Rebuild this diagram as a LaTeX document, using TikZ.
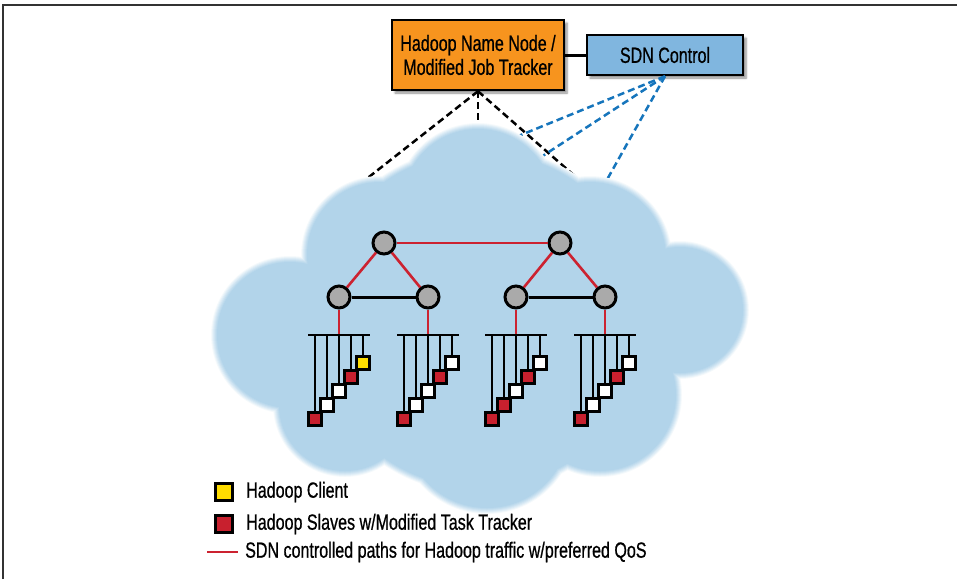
\documentclass[tikz,border=0pt]{standalone}
\usepackage{fontspec}
\setmainfont{Liberation Sans}[FakeStretch=0.73, FakeBold=0.7]
\usepackage{tikz}
\usetikzlibrary{positioning,shadows.blur}
\definecolor{cloudblue}{RGB}{178,212,234}
\definecolor{nameorange}{RGB}{247,148,30}
\definecolor{sdnblue}{RGB}{128,182,223}
\definecolor{pathred}{RGB}{204,34,48}
\definecolor{ctrlblue}{RGB}{22,117,188}
\definecolor{slavered}{RGB}{200,32,46}
\definecolor{clientyellow}{RGB}{255,221,0}
\definecolor{swgray}{RGB}{170,170,170}
\tikzset{
  box/.style={draw, line width=2.5pt, align=center, inner sep=0pt,
    blur shadow={shadow xshift=3pt, shadow yshift=-3pt, shadow blur steps=6, shadow opacity=45}},
  namebox/.style={box, fill=nameorange, minimum width=172pt, minimum height=70pt},
  sdnbox/.style={box, fill=sdnblue, minimum width=156pt, minimum height=40pt},
  sw/.style={circle, draw, line width=3pt, fill=swgray, minimum size=22pt, inner sep=0pt},
  srv/.style={draw, line width=2.5pt, minimum size=13pt, inner sep=0pt},
  legsq/.style={draw, line width=3pt, minimum size=17pt, inner sep=0pt},
  legtext/.style={inner sep=0pt, anchor=west},
  link/.style={line width=3pt},
  qos/.style={line width=2.6pt, pathred},
  rack/.style={line width=2.6pt},
  ctl/.style={line width=2.5pt, dash pattern=on 7pt off 4pt},
  sdnctl/.style={ctl, ctrlblue},
  frameline/.style={line width=1.5pt, black!80}}
\begin{document}
\begin{tikzpicture}[x=1pt, y=-1pt, font=\fontsize{22}{24}\selectfont]
  \useasboundingbox (0,0) rectangle (957,579);
  \draw[frameline] (3,579) -- (3,5) -- (957,5);
  % controllers
  \node[namebox] (nn) at (478,55) {Hadoop Name Node /\\Modified Job Tracker};
  \node[sdnbox] (sdn) at (665,55) {SDN Control};
  \draw[link] (nn) -- (sdn);
  % dashed control lines (cloud covers their ends)
  \coordinate (d1) at (360,184); \coordinate (d2) at (478,130); \coordinate (d3) at (585,185);
  \coordinate (b1) at (511,139); \coordinate (b2) at (538,159); \coordinate (b3) at (604,185);
  \draw[ctl] (nn.south) -- (d1); \draw[ctl] (nn.south) -- (d2); \draw[ctl] (nn.south) -- (d3);
  \draw[sdnctl] (sdn.south) -- (b1); \draw[sdnctl] (sdn.south) -- (b2); \draw[sdnctl] (sdn.south) -- (b3);
  % cloud, soft edge
  \foreach \d/\m in {6/12,5/28,4/45,3/60,2/75,1/88,0/100}
    \fill[cloudblue!\m!white] \foreach \cx/\cy/\cr in {478/205/78, 380/255/75, 590/258/78, 290/335/75,
        680/310/65, 345/405/68, 487/425/85, 600/395/78, 480/320/170}
      {(\cx,\cy) circle[radius=\cr+\d-2]};
  % switches
  \node[sw] (c1) at (384,243) {};
  \node[sw] (c2) at (560,243) {};
  \node[sw] (a1) at (339,297) {};
  \node[sw] (a2) at (428,297) {};
  \node[sw] (a3) at (516,297) {};
  \node[sw] (a4) at (605,297) {};
  \draw[qos] (c1) -- (c2); \draw[qos] (c1) -- (a1); \draw[qos] (c1) -- (a2);
  \draw[qos] (c2) -- (a3); \draw[qos] (c2) -- (a4);
  \draw[link] (a1) -- (a2); \draw[link] (a3) -- (a4);
  % racks
  \foreach \r/\x/\cols in {1/339/{slavered,white,white,slavered,clientyellow},
                           2/428/{slavered,white,white,slavered,white},
                           3/516/{slavered,slavered,white,slavered,white},
                           4/605/{slavered,white,white,slavered,white}} {
    \coordinate (bl\r) at (\x-31,335); \coordinate (br\r) at (\x+31,335);
    \coordinate (bm\r) at (\x,335);
    \draw[qos] (a\r) -- (bm\r);
    \draw[rack] (bl\r) -- (br\r);
    \foreach \f [count=\k from 0] in \cols {
      \node[srv, fill=\f] (s\r-\k) at ({\x-24+12*\k},{419-14*\k}) {};
      \coordinate (t\r-\k) at ({\x-24+12*\k},335);
      \draw[rack] (t\r-\k) -- (s\r-\k.north);
    }
  }
  % legend
  \node[legsq, fill=clientyellow] (lc) at (224,492) {};
  \node[legtext, right=12pt of lc] (lct) {Hadoop Client};
  \node[legsq, fill=slavered, below=12pt of lc] (ls) {};
  \node[legtext, right=12pt of ls] (lst) {Hadoop Slaves w/Modified Task Tracker};
  \coordinate (pl) at (207,552); \coordinate (pr) at (238,552);
  \draw[qos] (pl) -- (pr);
  \node[legtext, right=7pt of pr] (lpt) {SDN controlled paths for Hadoop traffic w/preferred QoS};
\end{tikzpicture}
\end{document}
